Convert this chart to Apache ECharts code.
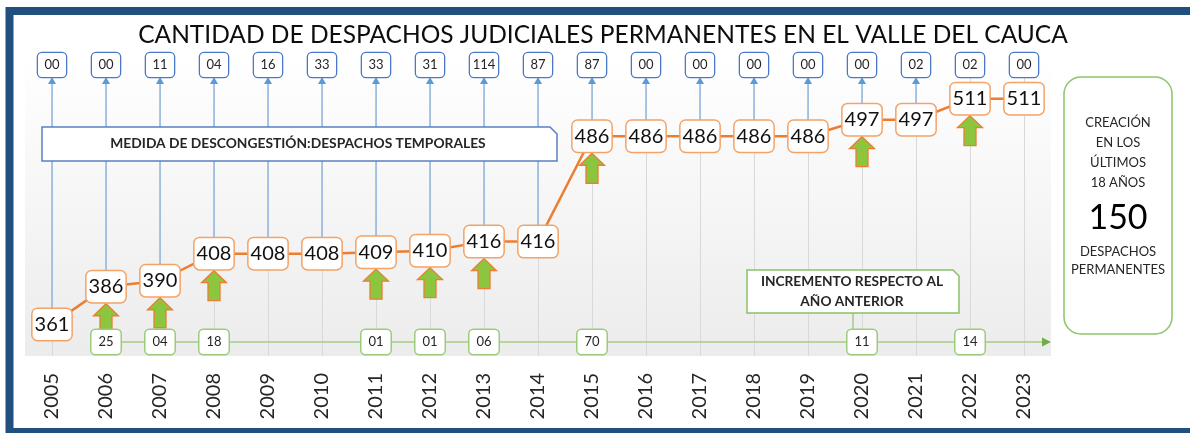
<!DOCTYPE html>
<html>
<head>
<meta charset="utf-8">
<script src="https://cdn.jsdelivr.net/npm/echarts@6/dist/echarts.min.js"></script>
<style>
html, body { margin: 0; padding: 0; background: #fff; }
#chart { width: 1190px; height: 433px; }
</style>
</head>
<body>
<div id="chart"></div>
<script>
// datos
var anios = ['2005', '2006', '2007', '2008', '2009', '2010', '2011', '2012', '2013', '2014',
	'2015', '2016', '2017', '2018', '2019', '2020', '2021', '2022', '2023'];
var permanentes = [361, 386, 390, 408, 408, 408, 409, 410, 416, 416, 486, 486, 486, 486, 486, 497, 497, 511, 511];
var temporales = [0, 0, 11, 4, 16, 33, 33, 31, 114, 87, 87, 0, 0, 0, 0, 0, 2, 2, 0];
var incrementos = [null, 25, 4, 18, null, null, 1, 1, 6, null, 70, null, null, null, null, 11, null, 14, null];
var totalCreados = 150;

// filas de anotacion, en unidades del eje y
var FILA_TEMP = 533.4;
var FILA_INC = 349.3;
var FUENTE = 'Lato, "Open Sans", sans-serif';

function dosDigitos(n) {
	return (n < 10 ? '0' : '') + n;
}

var chart = echarts.init(document.getElementById('chart'));

var puntos = anios.map(function(a, i) { return [i, permanentes[i]]; });
var conIncremento = puntos.filter(function(d) { return incrementos[d[0]] != null; });
var primerInc = conIncremento[0][0];

var option = {
	animation: false,
	grid: {
		left: 25, right: 139, top: 55, bottom: 77,
		show: true, borderWidth: 0,
		backgroundColor: new echarts.graphic.LinearGradient(0, 0, 0, 1, [
			{ offset: 0, color: '#ffffff' },
			{ offset: 1, color: '#ececec' }
		])
	},
	xAxis: {
		type: 'category',
		data: anios,
		boundaryGap: true,
		axisLine: { show: false },
		axisTick: { show: false },
		splitLine: { show: false },
		axisLabel: { rotate: 90, margin: 17, fontSize: 20, color: '#262626', fontFamily: FUENTE }
	},
	yAxis: {
		type: 'value', min: 340, max: 540, show: false
	},
	series: [
		{
			// lineas verticales de la rejilla, en el centro de cada anio
			name: 'rejilla', type: 'line', data: permanentes, z: 1, silent: true,
			symbol: 'none', lineStyle: { opacity: 0 },
			markLine: {
				z: 1, silent: true, symbol: ['none', 'none'], label: { show: false },
				lineStyle: { color: '#d9d9d9', width: 1, type: 'solid' },
				emphasis: { disabled: true },
				data: anios.map(function(a) { return { xAxis: a }; })
			}
		},
		{
			// flechas azules hacia los despachos temporales
			name: 'flechasTemp', type: 'custom', z: 2, silent: true,
			data: puntos,
			renderItem: function(params, api) {
				var i = api.value(0);
				var p = api.coord([i, api.value(1)]);
				var t = api.coord([i, FILA_TEMP]);
				var y0 = p[1] - 16, y1 = t[1] + 12;
				if (y0 - y1 < 10) return;
				return {
					type: 'group',
					children: [
						{ type: 'line', shape: { x1: p[0], y1: y0, x2: p[0], y2: y1 + 6 },
							style: { stroke: '#8fb6e2', lineWidth: 1.5 } },
						{ type: 'polygon', shape: { points: [[p[0], y1], [p[0] - 4, y1 + 7], [p[0] + 4, y1 + 7]] },
							style: { fill: '#5b9bd5' } }
					]
				};
			}
		},
		{
			// linea verde del incremento
			name: 'lineaInc', type: 'custom', z: 2, silent: true,
			data: [[primerInc, FILA_INC]],
			renderItem: function(params, api) {
				var p = api.coord([api.value(0), api.value(1)]);
				var fin = params.coordSys.x + params.coordSys.width;
				return {
					type: 'group',
					children: [
						{ type: 'line', shape: { x1: p[0], y1: p[1], x2: fin - 7, y2: p[1] },
							style: { stroke: '#a2cf85', lineWidth: 1.5 } },
						{ type: 'polygon', shape: { points: [[fin, p[1]], [fin - 9, p[1] - 4.5], [fin - 9, p[1] + 4.5]] },
							style: { fill: '#70ad47' } }
					]
				};
			}
		},
		{
			// flechas verdes de creacion
			name: 'flechasInc', type: 'custom', z: 3, silent: true,
			data: conIncremento,
			renderItem: function(params, api) {
				var p = api.coord([api.value(0), api.value(1)]);
				var x = p[0], t = p[1] + 17;
				return {
					type: 'polygon',
					shape: { points: [[x, t], [x + 12.5, t + 12], [x + 6, t + 12], [x + 6, t + 30],
						[x - 6, t + 30], [x - 6, t + 12], [x - 12.5, t + 12]] },
					style: { fill: '#8cc63e', stroke: '#ed7d31', lineWidth: 1.3 }
				};
			}
		},
		{
			name: 'Permanentes', type: 'line', data: permanentes, z: 4,
			symbol: 'circle', symbolSize: 1,
			itemStyle: { color: '#ed7d31' },
			lineStyle: { color: '#ed7d31', width: 2.5 },
			label: {
				show: true, position: 'inside',
				backgroundColor: '#fff', borderColor: '#f4a266', borderWidth: 1.5, borderRadius: 5,
				padding: [5, 2, 4, 2], fontSize: 20, lineHeight: 22, color: '#111', fontFamily: FUENTE
			}
		},
		{
			name: 'Temporales', type: 'scatter', z: 4,
			data: anios.map(function(a, i) { return [i, FILA_TEMP]; }),
			symbolSize: 1, itemStyle: { color: 'transparent', opacity: 1 },
			label: {
				show: true, position: 'inside',
				formatter: function(p) { return dosDigitos(temporales[p.value[0]]); },
				backgroundColor: '#fff', borderColor: '#4a78c8', borderWidth: 1.3, borderRadius: 4,
				width: 20, align: 'center', padding: [5, 4], fontSize: 13, lineHeight: 14,
				color: '#262626', fontFamily: FUENTE
			}
		},
		{
			name: 'Incremento', type: 'scatter', z: 4,
			data: conIncremento.map(function(d) { return [d[0], FILA_INC]; }),
			symbolSize: 1, itemStyle: { color: 'transparent', opacity: 1 },
			label: {
				show: true, position: 'inside',
				formatter: function(p) { return dosDigitos(incrementos[p.value[0]]); },
				backgroundColor: '#fff', borderColor: '#9ccb7c', borderWidth: 1.5, borderRadius: 4,
				width: 21, align: 'center', padding: [5, 4], fontSize: 13, lineHeight: 14,
				color: '#262626', fontFamily: FUENTE
			}
		}
	],
	graphic: [
		// marco exterior
		{ type: 'rect', z: 20, silent: true, shape: { x: 9.5, y: 11, width: 1200, height: 421 },
			style: { fill: 'none', stroke: '#21507e', lineWidth: 8 } },
		{ type: 'text', z: 20, x: 603, y: 35,
			style: { text: 'CANTIDAD DE DESPACHOS JUDICIALES PERMANENTES EN EL VALLE DEL CAUCA',
				font: '24.5px ' + FUENTE, fill: '#0d0d0d', textAlign: 'center', textVerticalAlign: 'middle' } },
		// recuadro de despachos temporales
		{ type: 'polygon', z: 10, shape: { points: [[42, 127], [550, 127], [557, 134], [557, 161], [42, 161]] },
			style: { fill: '#fff', stroke: '#5a7fc4', lineWidth: 1.5 } },
		{ type: 'text', z: 11, x: 298, y: 144,
			style: { text: 'MEDIDA DE DESCONGESTIÓN:DESPACHOS TEMPORALES', font: 'bold 13.8px ' + FUENTE,
				fill: '#262626', textAlign: 'center', textVerticalAlign: 'middle' } },
		// recuadro de incremento
		{ type: 'line', z: 10, shape: { x1: 853, y1: 313, x2: 853, y2: 330 },
			style: { stroke: '#a2cf85', lineWidth: 1.5 } },
		{ type: 'polygon', z: 10, shape: { points: [[747, 270], [953, 270], [959, 276], [959, 313], [747, 313]] },
			style: { fill: '#fff', stroke: '#8cc168', lineWidth: 1.5 } },
		{ type: 'text', z: 11, x: 852, y: 292,
			style: { text: 'INCREMENTO RESPECTO AL\nAÑO ANTERIOR', font: 'bold 13.7px ' + FUENTE, lineHeight: 20,
				fill: '#262626', textAlign: 'center', textVerticalAlign: 'middle' } },
		// recuadro de total
		{ type: 'rect', z: 10, shape: { x: 1064, y: 77, width: 108, height: 257, r: 17 },
			style: { fill: '#fff', stroke: '#8cc56b', lineWidth: 1.5 } },
		{ type: 'text', z: 11, x: 1118, y: 153,
			style: { text: 'CREACIÓN\nEN LOS\nÚLTIMOS\n18 AÑOS', font: '13px ' + FUENTE, lineHeight: 20,
				fill: '#262626', textAlign: 'center', textVerticalAlign: 'middle' } },
		{ type: 'text', z: 11, x: 1118, y: 218,
			style: { text: String(totalCreados), font: '34px ' + FUENTE, fill: '#000',
				textAlign: 'center', textVerticalAlign: 'middle' } },
		{ type: 'text', z: 11, x: 1118, y: 261,
			style: { text: 'DESPACHOS\nPERMANENTES', font: '13px ' + FUENTE, lineHeight: 18,
				fill: '#262626', textAlign: 'center', textVerticalAlign: 'middle' } }
	]
};
chart.setOption(option);
</script>
</body>
</html>
